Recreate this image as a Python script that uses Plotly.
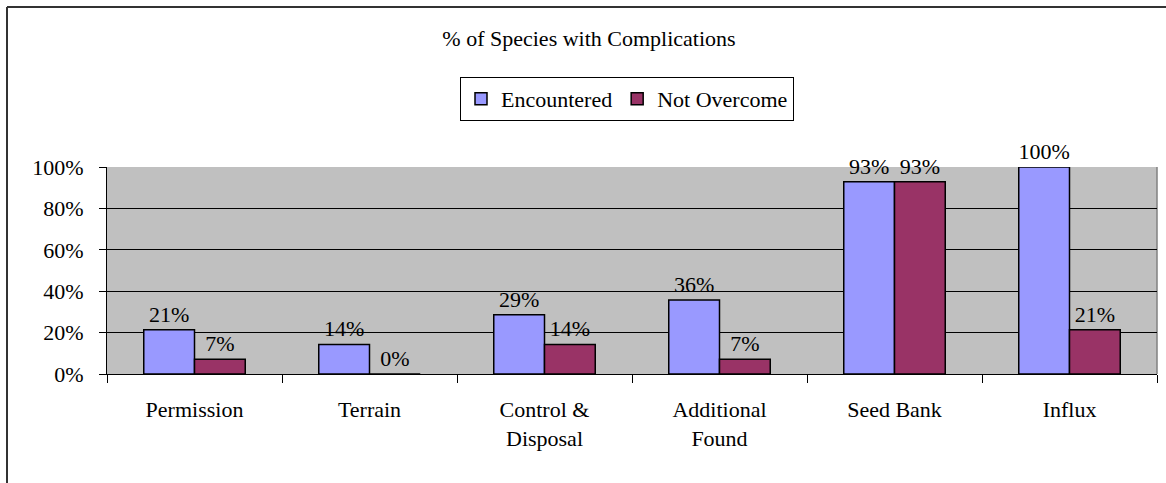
import plotly.graph_objects as go

categories = ["Permission", "Terrain", "Control &<br>Disposal", "Additional<br>Found", "Seed Bank", "Influx"]
encountered = [0.214, 0.143, 0.286, 0.357, 0.929, 1.0]
not_overcome = [0.071, 0.0, 0.143, 0.071, 0.929, 0.214]
tick_vals = [0, 0.2, 0.4, 0.6, 0.8, 1.0]
tick_text = ["0%", "20%", "40%", "60%", "80%", "100%"]

FONT = "Liberation Serif"
FS = 22

fig = go.Figure()
fig.add_trace(go.Bar(
    x=categories, y=encountered, name="Encountered",
    marker=dict(color="#9999FF", line=dict(color="black", width=1.5)),
    text=[f"{round(v*100)}%" for v in encountered], textposition="outside",
    textfont=dict(family=FONT, size=FS, color="black"), cliponaxis=False,
    constraintext="none",
))
fig.add_trace(go.Bar(
    x=categories, y=not_overcome, name="Not Overcome",
    marker=dict(color="#993366", line=dict(color="black", width=1.5)),
    text=[f"{round(v*100)}%" for v in not_overcome], textposition="outside",
    textfont=dict(family=FONT, size=FS, color="black"), cliponaxis=False,
    constraintext="none",
))

W, H = 1166, 483
L, R, T, B = 107, 9, 167, 109
pw, ph = W - L - R, H - T - B

def px_to_paper_x(px):
    return (px - L) / pw

def px_to_paper_y(py):
    return (H - B - py) / ph

fig.update_layout(
    width=W, height=H,
    margin=dict(l=L, r=R, t=T, b=B, autoexpand=False),
    paper_bgcolor="white", plot_bgcolor="#C0C0C0",
    font=dict(family=FONT, size=FS, color="black"),
    barmode="group", bargap=0.42, bargroupgap=0,
    title=dict(text="% of Species with Complications", x=589 / W, xref="container",
               xanchor="center", y=1 - 38 / H, yref="container", yanchor="middle",
               font=dict(family=FONT, size=FS, color="black")),
    legend=dict(orientation="h", x=px_to_paper_x(460), y=px_to_paper_y(77),
                xanchor="left", yanchor="top", xref="paper", yref="paper",
                bordercolor="black", borderwidth=1, bgcolor="white",
                font=dict(family=FONT, size=FS, color="black"),
                itemwidth=30, tracegroupgap=0),
    showlegend=True,
)
fig.update_xaxes(
    showline=True, linecolor="black", linewidth=1,
    ticks="outside", tickson="boundaries", ticklen=8, tickcolor="black",
    showgrid=False, ticklabelstandoff=16,
    tickfont=dict(family=FONT, size=FS, color="black"),
)
fig.update_yaxes(
    range=[0, 1], tickvals=tick_vals, ticktext=tick_text,
    showline=True, linecolor="black", linewidth=1,
    ticks="outside", ticklen=7, tickcolor="black",
    showgrid=True, gridcolor="black", gridwidth=1,
    zeroline=False, ticklabelstandoff=11,
    tickfont=dict(family=FONT, size=FS, color="black"),
)
fig.add_shape(type="line", xref="paper", yref="paper", x0=1, x1=1, y0=0, y1=1,
              line=dict(color="#808080", width=1.5), layer="below")
# outer chart border (left and top edges visible)
fig.add_shape(type="line", xref="paper", yref="paper",
              x0=px_to_paper_x(7), x1=px_to_paper_x(7), y0=px_to_paper_y(490), y1=px_to_paper_y(7),
              line=dict(color="#333333", width=2))
fig.add_shape(type="line", xref="paper", yref="paper",
              x0=px_to_paper_x(7), x1=px_to_paper_x(1175), y0=px_to_paper_y(7), y1=px_to_paper_y(7),
              line=dict(color="#333333", width=2))

fig.write_html("out.html", config={"displayModeBar": False},
               post_script="document.body.style.margin='0';")
